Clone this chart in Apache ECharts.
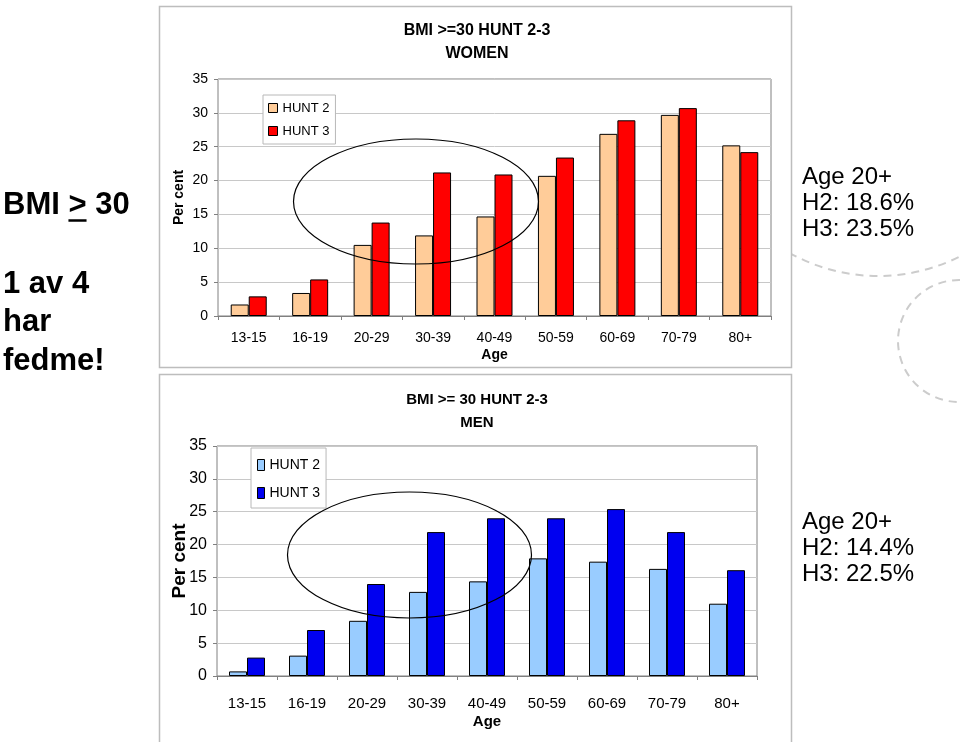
<!DOCTYPE html>
<html><head><meta charset="utf-8">
<script src="https://cdn.jsdelivr.net/npm/echarts@6/dist/echarts.min.js"></script>
<style>html,body{margin:0;padding:0;background:#fff}#c{width:960px;height:742px}</style>
</head><body><div id="c"></div>
<script>
// ---- data ----
const ageGroups = ['13-15','16-19','20-29','30-39','40-49','50-59','60-69','70-79','80+'];
const womenHunt2 = [1.7, 3.4, 10.5, 11.9, 14.7, 20.7, 26.9, 29.7, 25.2];
const womenHunt3 = [2.9, 5.4, 13.8, 21.2, 20.9, 23.4, 28.9, 30.7, 24.2];
const menHunt2 = [0.7, 3.1, 8.4, 12.8, 14.4, 17.9, 17.4, 16.3, 11.0];
const menHunt3 = [2.8, 7.0, 14.0, 21.9, 24.0, 24.0, 25.4, 21.9, 16.1];
const yMin = 0, yMax = 35, yStep = 5;
const seriesNames = ['HUNT 2', 'HUNT 3'];
const womenTitle = ['BMI >=30 HUNT 2-3', 'WOMEN'];
const menTitle = ['BMI >= 30 HUNT 2-3', 'MEN'];
const womenSummary = ['Age 20+', 'H2: 18.6%', 'H3: 23.5%'];
const menSummary = ['Age 20+', 'H2: 14.4%', 'H3: 22.5%'];
const headline = ['BMI ', '>', ' 30'];
const tagline = ['1 av 4', 'har', 'fedme!'];

// ---- styles ----
const SANS = '"Liberation Sans", Arial, sans-serif';
const NARROW = '"Liberation Sans Narrow", "Arial Narrow", "Liberation Sans", sans-serif';
const colors = { w2: '#FFCC99', w3: '#FF0000', m2: '#99CCFF', m3: '#0000F0' };
const gridLine = '#C8C8C8', axisGray = '#808080';

const chart = echarts.init(document.getElementById('c'), null, { renderer: 'canvas' });

function xAx(gi, font, size, margin, nameSize, nameGap) {
  return {
    gridIndex: gi, type: 'category', data: ageGroups,
    axisLine: { show: true, lineStyle: { color: axisGray, width: 1 } },
    axisTick: { show: true, length: 4, lineStyle: { color: axisGray } },
    axisLabel: { interval: 0, margin: margin, color: '#000', fontFamily: font, fontSize: size },
    name: 'Age', nameLocation: 'middle', nameGap: nameGap, nameMoveOverlap: false,
    nameTextStyle: { fontFamily: font, fontWeight: 'bold', fontSize: nameSize, color: '#000' }
  };
}
function yAx(gi, font, size, nameFont, nameSize, nameGap) {
  return {
    gridIndex: gi, type: 'value', min: yMin, max: yMax, interval: yStep,
    axisLine: { show: false },
    axisTick: { show: true, length: 4, lineStyle: { color: axisGray } },
    splitLine: { show: true, lineStyle: { color: gridLine, width: 1 } },
    axisLabel: { margin: 10, color: '#000', fontFamily: font, fontSize: size },
    name: 'Per cent', nameLocation: 'middle', nameRotate: 90, nameGap: nameGap, nameMoveOverlap: false,
    nameTextStyle: { fontFamily: nameFont, fontWeight: 'bold', fontSize: nameSize, color: '#000' }
  };
}
function bar(name, gi, data, color) {
  return {
    type: 'bar', name: name, xAxisIndex: gi, yAxisIndex: gi, data: data,
    barWidth: 18, barGap: '0%', animation: false,
    itemStyle: { color: color, borderColor: '#000', borderWidth: 1 }
  };
}

// underline position for ">" in headline
const headFont = 'bold 31px "Liberation Sans"';
const mctx = document.createElement('canvas').getContext('2d');
mctx.font = headFont;
const ulX0 = 3 + mctx.measureText(headline[0]).width;
const ulW = mctx.measureText(headline[1]).width;

const option = {
  backgroundColor: '#fff',
  animation: false,
  title: [
    { text: womenTitle.join('\n'), left: 477, top: 19, textAlign: 'center', padding: 0,
      textStyle: { fontFamily: SANS, fontWeight: 'bold', fontSize: 16, lineHeight: 23, color: '#000' } },
    { text: menTitle.join('\n'), left: 477, top: 388, textAlign: 'center', padding: 0,
      textStyle: { fontFamily: NARROW, fontWeight: 'bold', fontSize: 15, lineHeight: 23, color: '#000' } }
  ],
  grid: [
    { left: 218, top: 79, width: 553, height: 237, show: true, borderColor: axisGray, borderWidth: 1,
      backgroundColor: 'transparent', containLabel: false, outerBoundsMode: 'none' },
    { left: 217, top: 446, width: 540, height: 230, show: true, borderColor: axisGray, borderWidth: 1,
      backgroundColor: 'transparent', containLabel: false, outerBoundsMode: 'none' }
  ],
  xAxis: [xAx(0, SANS, 14, 15, 14, 32), xAx(1, NARROW, 15, 20, 15, 38)],
  yAxis: [yAx(0, SANS, 14, SANS, 14, 32), yAx(1, NARROW, 16, SANS, 19, 28)],
  legend: [
    { orient: 'vertical', left: 263, top: 95, padding: [5, 6, 5, 5], itemGap: 7, itemWidth: 9, itemHeight: 9,
      backgroundColor: '#fff', borderColor: '#B8B8B8', borderWidth: 1, selectedMode: false, icon: 'rect',
      textStyle: { fontFamily: SANS, fontSize: 13, lineHeight: 16, color: '#000' },
      data: [
        { name: seriesNames[0], itemStyle: { color: colors.w2, borderColor: '#000', borderWidth: 1 } },
        { name: seriesNames[1], itemStyle: { color: colors.w3, borderColor: '#000', borderWidth: 1 } }
      ] },
    { orient: 'vertical', left: 251, top: 448, padding: [9, 6, 7, 6], itemGap: 12, itemWidth: 7, itemHeight: 11,
      backgroundColor: '#fff', borderColor: '#B8B8B8', borderWidth: 1, selectedMode: false, icon: 'rect',
      textStyle: { fontFamily: NARROW, fontSize: 14, lineHeight: 16, color: '#000' },
      data: [
        { name: seriesNames[0], itemStyle: { color: colors.m2, borderColor: '#000', borderWidth: 1 } },
        { name: seriesNames[1], itemStyle: { color: colors.m3, borderColor: '#000', borderWidth: 1 } }
      ] }
  ],
  series: [
    bar(seriesNames[0], 0, womenHunt2, colors.w2),
    bar(seriesNames[1], 0, womenHunt3, colors.w3),
    bar(seriesNames[0], 1, menHunt2, colors.m2),
    bar(seriesNames[1], 1, menHunt3, colors.m3)
  ],
  graphic: [
    // decorative dashed arcs
    { type: 'arc', z: -20, silent: true,
      shape: { cx: 878, cy: 95, r: 181, startAngle: 0.8, endAngle: 2.2, clockwise: true },
      style: { fill: 'none', stroke: '#CCCCCC', lineWidth: 2, lineDash: [8, 6] } },
    { type: 'circle', z: -20, silent: true,
      shape: { cx: 959, cy: 341, r: 61 },
      style: { fill: 'none', stroke: '#CCCCCC', lineWidth: 2, lineDash: [8, 6] } },
    // panel boxes
    { type: 'rect', z: -10, silent: true,
      shape: { x: 159.5, y: 6.5, width: 632, height: 361 },
      style: { fill: '#fff', stroke: '#BDBDBD', lineWidth: 1.5 } },
    { type: 'rect', z: -10, silent: true,
      shape: { x: 159.5, y: 374.5, width: 632, height: 380 },
      style: { fill: '#fff', stroke: '#BDBDBD', lineWidth: 1.5 } },
    // highlight ellipses
    { type: 'ellipse', z: 10, silent: true,
      shape: { cx: 416, cy: 201.5, rx: 122.5, ry: 62.5 },
      style: { fill: 'none', stroke: '#000', lineWidth: 1.2 } },
    { type: 'ellipse', z: 10, silent: true,
      shape: { cx: 409.5, cy: 555, rx: 122, ry: 63 },
      style: { fill: 'none', stroke: '#000', lineWidth: 1.2 } },
    // left texts
    { type: 'text', z: 10, x: 3, y: 205,
      style: { text: headline.join(''), font: headFont, fill: '#000', verticalAlign: 'middle' } },
    { type: 'line', z: 10, silent: true,
      shape: { x1: ulX0, y1: 220.5, x2: ulX0 + ulW, y2: 220.5 },
      style: { stroke: '#000', lineWidth: 2.5 } },
    { type: 'text', z: 10, x: 3, y: 265,
      style: { text: tagline.join('\n'), font: headFont, lineHeight: 38.5, fill: '#000', verticalAlign: 'top' } },
    // right summaries
    { type: 'text', z: 10, x: 802, y: 164,
      style: { text: womenSummary.join('\n'), font: '24px "Liberation Sans"', lineHeight: 26, fill: '#000', verticalAlign: 'top' } },
    { type: 'text', z: 10, x: 802, y: 509,
      style: { text: menSummary.join('\n'), font: '24px "Liberation Sans"', lineHeight: 26, fill: '#000', verticalAlign: 'top' } }
  ]
};
chart.setOption(option);
</script>
</body></html>
